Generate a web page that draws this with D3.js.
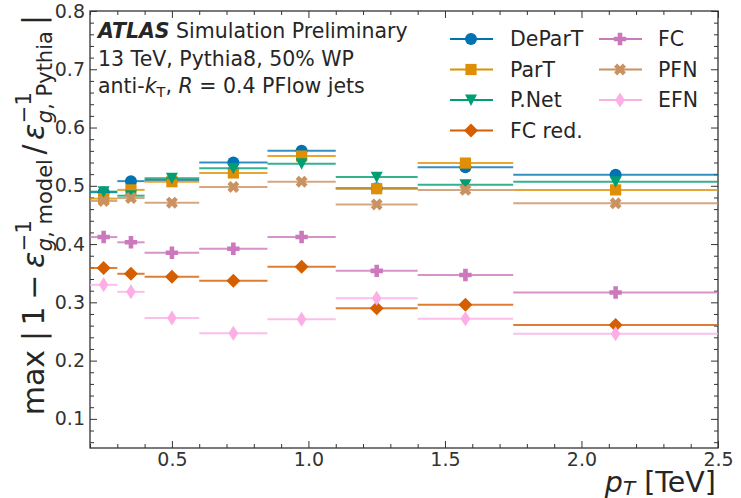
<!DOCTYPE html>
<html><head><meta charset="utf-8">
<script src="https://cdn.jsdelivr.net/npm/d3@7"></script>
<style>
body{margin:0;background:#fff}
svg{display:block}
text{font-family:"DejaVu Sans",sans-serif;fill:#262626}
</style>
</head><body>
<svg id="c" width="741" height="498"></svg>
<script>
// ---------------- data ----------------
const binEdges   = [0.2, 0.3, 0.4, 0.6, 0.85, 1.1, 1.4, 1.75, 2.5];
const binCenters = [0.25, 0.35, 0.5, 0.725, 0.975, 1.25, 1.575, 2.125];
const seriesNames = ["DeParT", "ParT", "P.Net", "FC red.", "FC", "PFN", "EFN"];
const valDeParT = [0.489, 0.508, 0.510, 0.540, 0.560, 0.496, 0.532, 0.519];
const valParT   = [0.478, 0.493, 0.507, 0.522, 0.551, 0.495, 0.539, 0.493];
const valPNet   = [0.490, 0.483, 0.513, 0.530, 0.538, 0.515, 0.502, 0.507];
const valFCred  = [0.359, 0.349, 0.344, 0.337, 0.361, 0.290, 0.296, 0.261];
const valFC     = [0.412, 0.403, 0.385, 0.392, 0.412, 0.354, 0.347, 0.317];
const valPFN    = [0.474, 0.479, 0.471, 0.498, 0.507, 0.468, 0.493, 0.470];
const valEFN    = [0.330, 0.318, 0.273, 0.247, 0.271, 0.307, 0.272, 0.246];
const seriesValues = [valDeParT, valParT, valPNet, valFCred, valFC, valPFN, valEFN];
const xTicks = [0.5, 1.0, 1.5, 2.0, 2.5];
const yTicks = [0.1, 0.2, 0.3, 0.4, 0.5, 0.6, 0.7, 0.8];

// ---------------- styles ----------------
const colors  = ["#0173b2", "#de8f05", "#029e73", "#d55e00", "#cc78bc", "#ca9161", "#fbafe4"];
const markers = ["o", "s", "v", "D", "P", "X", "d"];

const svg = d3.select("#c");
const L = 90, R = 718, T = 11, B = 448;
const x = d3.scaleLinear().domain([0.2, 2.5]).range([L, R]);
const y = d3.scaleLinear().domain([0.05, 0.8]).range([B, T]);
const axisCol = "#333";

function markerPath(type) {
  switch (type) {
    case "o": { const r = 6; return `M${-r},0a${r},${r} 0 1,0 ${2*r},0a${r},${r} 0 1,0 ${-2*r},0Z`; }
    case "s": { const h = 5.6; return `M${-h},${-h}H${h}V${h}H${-h}Z`; }
    case "v": { const h = 6; return `M${-h},${-h*0.9}L${h},${-h*0.9}L0,${h}Z`; }
    case "D": { const a = 7; return `M0,${-a}L${a},0L0,${a}L${-a},0Z`; }
    case "P": { const a = 6.2, t = 2.3;
      return `M${-t},${-a}H${t}V${-t}H${a}V${t}H${t}V${a}H${-t}V${t}H${-a}V${-t}H${-t}Z`; }
    case "X": { const a = 6.2, t = 2.2, pts = [];
      const base = [[-t,-a],[t,-a],[t,-t],[a,-t],[a,t],[t,t],[t,a],[-t,a],[-t,t],[-a,t],[-a,-t],[-t,-t]];
      const c = Math.SQRT1_2;
      base.forEach(([px,py]) => pts.push([(px-py)*c, (px+py)*c]));
      return "M" + pts.map(p => p.join(",")).join("L") + "Z"; }
    case "d": return `M0,-7.5L4.8,0L0,7.5L-4.8,0Z`;
  }
}

// ---------------- axes ----------------
const xMinor = d3.range(2, 26).map(v => v / 10).filter(v => !xTicks.some(t => Math.abs(t - v) < 1e-9));
const yMinor = d3.range(3, 41).map(v => v / 50).filter(v => !yTicks.some(t => Math.abs(t - v) < 1e-9));

function styleAxis(g) {
  g.select(".domain").remove();
  g.selectAll("line").attr("stroke", axisCol).attr("stroke-width", 1);
  g.selectAll("text").style("font-size", "19px").style("fill", "#333").attr("font-family", "DejaVu Sans");
}
svg.append("g").attr("transform", `translate(0,${B})`)
  .call(d3.axisBottom(x).tickValues(xTicks).tickFormat(d3.format(".1f")).tickSizeInner(-7).tickSizeOuter(0).tickPadding(4))
  .call(styleAxis);
svg.append("g").attr("transform", `translate(0,${B})`)
  .call(d3.axisBottom(x).tickValues(xMinor).tickFormat("").tickSizeInner(-4).tickSizeOuter(0)).call(styleAxis);
svg.append("g").attr("transform", `translate(0,${T})`)
  .call(d3.axisTop(x).tickValues(xTicks).tickFormat("").tickSizeInner(-7).tickSizeOuter(0)).call(styleAxis);
svg.append("g").attr("transform", `translate(0,${T})`)
  .call(d3.axisTop(x).tickValues(xMinor).tickFormat("").tickSizeInner(-4).tickSizeOuter(0)).call(styleAxis);
svg.append("g").attr("transform", `translate(${L},0)`)
  .call(d3.axisLeft(y).tickValues(yTicks).tickFormat(d3.format(".1f")).tickSizeInner(-7).tickSizeOuter(0).tickPadding(5))
  .call(styleAxis);
svg.append("g").attr("transform", `translate(${L},0)`)
  .call(d3.axisLeft(y).tickValues(yMinor).tickFormat("").tickSizeInner(-4).tickSizeOuter(0)).call(styleAxis);
svg.append("g").attr("transform", `translate(${R},0)`)
  .call(d3.axisRight(y).tickValues(yTicks).tickFormat("").tickSizeInner(-7).tickSizeOuter(0)).call(styleAxis);
svg.append("g").attr("transform", `translate(${R},0)`)
  .call(d3.axisRight(y).tickValues(yMinor).tickFormat("").tickSizeInner(-4).tickSizeOuter(0)).call(styleAxis);

svg.append("rect").attr("x", L).attr("y", T).attr("width", R - L).attr("height", B - T)
  .attr("fill", "none").attr("stroke", axisCol).attr("stroke-width", 1.3);

// ---------------- data marks ----------------
const plot = svg.append("g");
seriesValues.forEach((vals, si) => {
  const g = plot.append("g");
  g.selectAll("line").data(vals).join("line")
    .attr("x1", (d, i) => x(binEdges[i])).attr("x2", (d, i) => x(binEdges[i + 1]))
    .attr("y1", d => y(d)).attr("y2", d => y(d))
    .attr("stroke", colors[si]).attr("stroke-width", 2).attr("stroke-opacity", 0.8);
  g.selectAll("path").data(vals).join("path")
    .attr("d", markerPath(markers[si]))
    .attr("transform", (d, i) => `translate(${x(binCenters[i])},${y(d)})`)
    .attr("fill", colors[si]);
});

// ---------------- legend ----------------
const leg = svg.append("g");
const legCols = [{lx: 450, mx: 471, tx: 510}, {lx: 599, mx: 620, tx: 658}];
const legRows = [39, 69.5, 100, 130.5];
seriesNames.forEach((name, i) => {
  const c = legCols[i < 4 ? 0 : 1], ry = legRows[i < 4 ? i : i - 4];
  leg.append("line").attr("x1", c.lx).attr("x2", c.lx + 43).attr("y1", ry).attr("y2", ry)
    .attr("stroke", colors[i]).attr("stroke-width", 2);
  leg.append("path").attr("d", markerPath(markers[i])).attr("transform", `translate(${c.mx},${ry})`).attr("fill", colors[i]);
  leg.append("text").attr("x", c.tx).attr("y", ry).attr("dy", "0.36em").style("font-size", "20.5px").text(name);
});

// ---------------- ATLAS label ----------------
const t1 = svg.append("text").attr("x", 98).attr("y", 38).style("font-size", "20.5px");
t1.append("tspan").attr("font-weight", "bold").attr("font-style", "italic").text("ATLAS");
t1.append("tspan").text(" Simulation Preliminary");
svg.append("text").attr("x", 98).attr("y", 66).style("font-size", "20.5px").text("13 TeV, Pythia8, 50% WP");
const t3 = svg.append("text").attr("x", 98).attr("y", 93).style("font-size", "20.5px");
t3.append("tspan").text("anti-");
t3.append("tspan").attr("font-style", "italic").text("k");
t3.append("tspan").attr("dy", 4).style("font-size", "14.5px").text("T");
t3.append("tspan").attr("dy", -4).text(", ");
t3.append("tspan").attr("font-style", "italic").text("R");
t3.append("tspan").text(" = 0.4 PFlow jets");

// ---------------- x label ----------------
const xl = svg.append("text").attr("x", 716).attr("y", 491.5).attr("text-anchor", "end").style("font-size", "28.5px");
xl.append("tspan").attr("font-style", "italic").text("p");
xl.append("tspan").attr("font-style", "italic").attr("dy", 3).style("font-size", "20px").text("T");
xl.append("tspan").attr("dy", -3).text(" [TeV]");

// ---------------- y label (mathtext-like layout) ----------------
(function () {
  const F = 30, S = 21;
  const g = svg.append("g").attr("transform", `translate(44,${T}) rotate(-90)`);
  const inner = g.append("g");
  let cx = 0;
  function piece(txt, opts = {}) {
    const t = inner.append("text").attr("x", cx).attr("y", opts.dy || 0)
      .style("font-size", (opts.size || F) + "px");
    if (opts.italic) t.attr("font-style", "italic");
    t.text(txt);
    return t;
  }
  function adv(t) { return t.node().getComputedTextLength(); }
  function add(txt, opts = {}, gap = 0) { const t = piece(txt, opts); cx += adv(t) + gap; return t; }
  function scripts(sup, subParts) {
    const start = cx;
    const s1 = piece(sup, {size: S, dy: -0.42 * F});
    const w1 = adv(s1);
    let sx = start;
    subParts.forEach(p => {
      const t = inner.append("text").attr("x", sx).attr("y", 0.28 * F).style("font-size", S + "px");
      if (p.italic) t.attr("font-style", "italic");
      t.text(p.t);
      sx += t.node().getComputedTextLength();
    });
    cx = Math.max(start + w1, sx);
  }
  add("max", {}, 0.3 * F);
  add("|", {}, 0.18 * F);
  add("1", {}, 0.22 * F);
  add("\u2212", {}, 0.22 * F);
  add("\u03b5", {italic: true}, 0.02 * F);
  scripts("\u22121", [{t: "g", italic: true}, {t: ", model"}]);
  cx += 0.15 * F;
  add("/", {}, 0.15 * F);
  add("\u03b5", {italic: true}, 0.02 * F);
  scripts("\u22121", [{t: "g", italic: true}, {t: ", Pythia"}]);
  cx += 0.2 * F;
  add("|", {});
  inner.attr("transform", `translate(${-cx - 4},0)`);
})();
</script>
</body></html>
